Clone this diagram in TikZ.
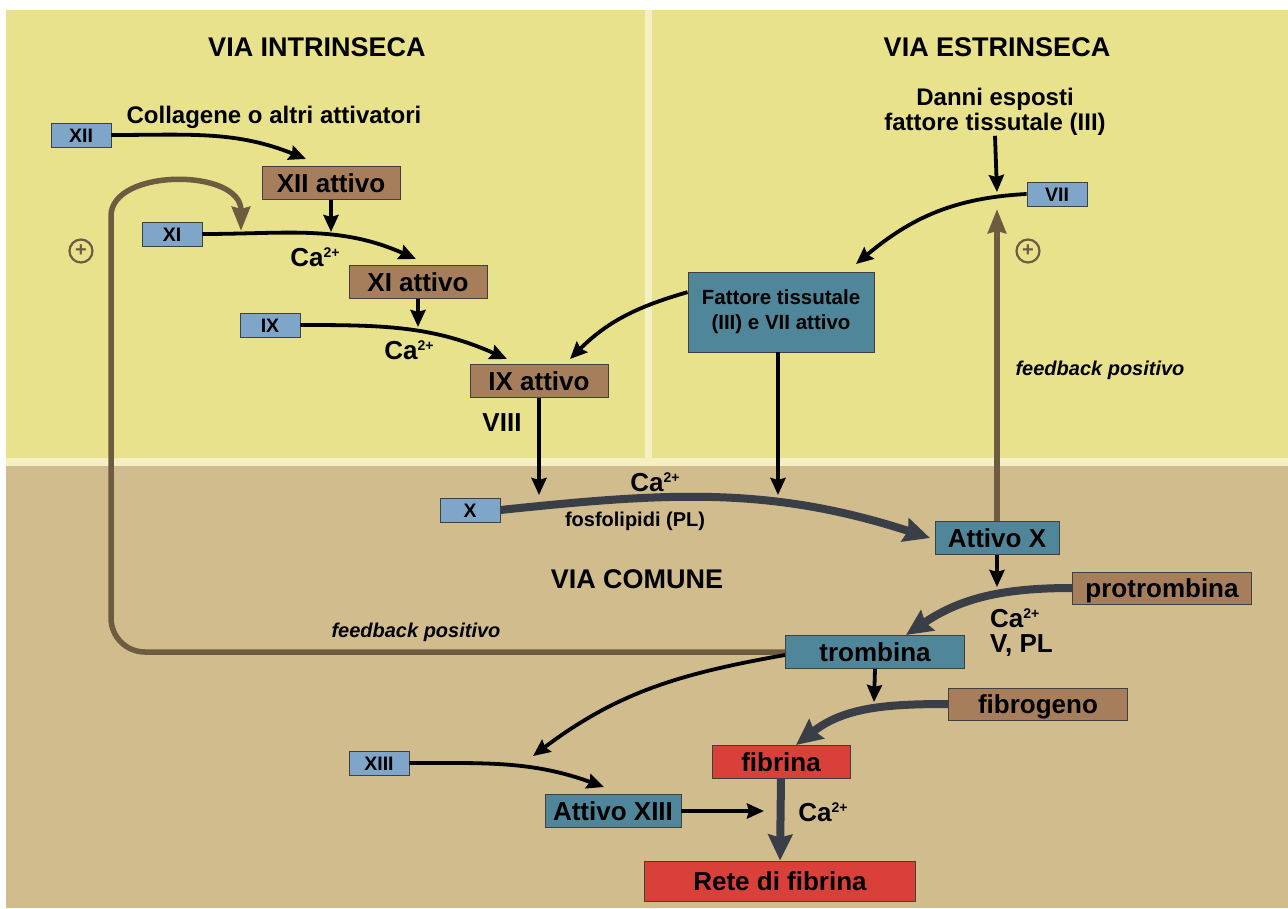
\documentclass[tikz,border=0pt]{standalone}
\usepackage{fontspec}
\setmainfont{Liberation Sans}
\usetikzlibrary{
	arrows.meta,
	positioning,
	calc,
}
\definecolor{panelyellow}{HTML}{E8E28C}
\definecolor{paneltan}{HTML}{D0BC8C}
\definecolor{panelstrip}{HTML}{F4F0C4}
\definecolor{factorblue}{HTML}{7FA6C8}
\definecolor{enzymebrown}{HTML}{A67E5C}
\definecolor{enzymeteal}{HTML}{50869A}
\definecolor{fibrinred}{HTML}{D9403A}
\definecolor{feedbackbrown}{HTML}{6E5C40}
\definecolor{darkflow}{HTML}{3A3E46}
\newcommand{\calcium}{Ca\raisebox{8.5pt}{\fontsize{14}{14}\selectfont 2+}}
\tikzset{factor/.style={
		% The shape:
		rectangle,
		% The size:
		minimum width=60pt,minimum height=24pt,inner sep=0pt,
		% The border:
		draw=black!75,line width=0.8pt,
		% The filling:
		fill=factorblue,
		% make sure text aligns properly
		font=\bfseries\fontsize{19.5}{21}\selectfont,
		text height=14pt,text depth=0pt,
}}
\tikzset{enzyme/.style={
		% The shape:
		rectangle,
		% The size:
		minimum width=138pt,minimum height=33pt,inner sep=0pt,
		% The border:
		draw=black!75,line width=0.8pt,
		% The filling:
		fill=enzymebrown,
		% make sure text aligns properly
		font=\bfseries\fontsize{26}{30}\selectfont,
		text height=18.7pt,text depth=0pt,
}}
\tikzset{active/.style={enzyme,fill=enzymeteal}}
\tikzset{fibrin/.style={enzyme,fill=fibrinred}}
\tikzset{complex/.style={
		rectangle,minimum width=186pt,minimum height=80pt,inner sep=0pt,
		draw=black!75,line width=0.8pt,fill=enzymeteal,
		align=center,font=\bfseries\fontsize{20.5}{25}\selectfont,
}}
\tikzset{headline/.style={inner sep=0pt,font=\bfseries\fontsize{27}{30}\selectfont,text height=19.4pt,text depth=0pt}}
\tikzset{note/.style={inner sep=0pt,font=\bfseries\fontsize{24}{26}\selectfont,text height=17.3pt,text depth=0pt}}
\tikzset{notelines/.style={inner sep=0pt,align=center,font=\bfseries\fontsize{24}{25}\selectfont}}
\tikzset{ion/.style={inner sep=0pt,font=\bfseries\fontsize{26}{28}\selectfont,text height=18.7pt,text depth=0pt}}
\tikzset{small note/.style={inner sep=0pt,font=\bfseries\fontsize{20}{22}\selectfont,text height=14.4pt,text depth=0pt}}
\tikzset{fbnote/.style={inner sep=0pt,font=\bfseries\itshape\fontsize{20}{22}\selectfont,text height=14.4pt,text depth=0pt}}
\tikzset{plus/.style={circle,draw=feedbackbrown,line width=2.2pt,minimum size=23pt,inner sep=0pt,
		text=feedbackbrown,font=\bfseries\fontsize{20}{20}\selectfont}}
\tikzset{flow/.style={->,line width=3.8pt,black}}
\tikzset{thickflow/.style={-{Stealth[length=26pt,width=24pt,inset=3pt]},line width=8pt,darkflow}}
\tikzset{feedback/.style={-{Stealth[length=24pt,width=18pt,inset=2pt]},line width=5.5pt,feedbackbrown}}

\begin{document}
\begin{tikzpicture}[x=1pt,y=-1pt,>={Stealth[length=17pt,width=15pt,inset=2pt]}]
	% panels
	\useasboundingbox (0,0) rectangle (1288,908);
	\fill[white] (0,0) rectangle (1288,908);
	\fill[panelstrip] (6,10) rectangle (1288,466);
	\fill[panelyellow] (6,10) rectangle (645,458);
	\fill[panelyellow] (652,10) rectangle (1288,458);
	\fill[paneltan] (6,466) rectangle (1288,908);
	% titles
	\node[headline] (intr) at (317,47) {VIA INTRINSECA};
	\node[headline] (estr) at (997,47) {VIA ESTRINSECA};
	\node[headline] (comune) at (637,579) {VIA COMUNE};
	% via intrinseca
	\node[factor] (xii) at (81,135) {XII};
	\node[note] (coll) at (274,115) {Collagene o altri attivatori};
	\node[enzyme] (xiiact) at (331,183) {XII attivo};
	\node[factor] (xi) at (172,234) {XI};
	\node[ion] (ca1) at (315,257) {\calcium};
	\node[enzyme] (xiact) at (418,282) {XI attivo};
	\node[factor] (ix) at (270,325) {IX};
	\node[ion] (ca2) at (409,350) {\calcium};
	\node[enzyme] (ixact) at (539,381) {IX attivo};
	\node[ion] (viii) at (502,422) {VIII};
	\node[plus] (plusl) at (81,251) {+};
	% via estrinseca
	\node[notelines,anchor=north] (danni) at (995,88) {Danni esposti\\fattore tissutale (III)};
	\node[factor] (vii) at (1057,194) {VII};
	\node[complex] (fatt) at (781,312) {Fattore tissutale\\(III) e VII attivo};
	\node[plus] (plusr) at (1028,251) {+};
	\node[fbnote] (fbr) at (1100,368) {feedback positivo};
	% via comune
	\node[factor] (x) at (470,510) {X};
	\node[ion] (ca3) at (655,482) {\calcium};
	\node[small note] (fosfo) at (635,519) {fosfolipidi (PL)};
	\node[active,minimum width=124pt] (xact) at (997,538) {Attivo X};
	\node[enzyme,minimum width=179pt,minimum height=32pt] (protr) at (1162,588) {protrombina};
	\node[ion,anchor=west] (ca4) at (990,618) {\calcium};
	\node[ion,anchor=west] (vpl) at (990,643) {V, PL};
	\node[active,minimum width=179pt] (tromb) at (875,652) {trombina};
	\node[fbnote] (fbl) at (416,630) {feedback positivo};
	\node[enzyme,minimum width=179pt,minimum height=32pt] (fibrog) at (1038,704) {fibrogeno};
	\node[fibrin] (fibr) at (781,762) {fibrina};
	\node[factor] (xiii) at (379,763) {XIII};
	\node[active,minimum width=136pt] (xiiiact) at (613,811) {Attivo XIII};
	\node[ion] (ca5) at (823,812) {\calcium};
	\node[fibrin,minimum width=271pt,minimum height=40pt] (rete) at (780,881) {Rete di fibrina};
	% arrow ends
	\coordinate (xiiin) at (306,159);
	\coordinate (xiiout) at (331,232);
	\coordinate (xiin) at (416,259);
	\coordinate (xiout) at (418,327);
	\coordinate (ixin) at (507,359);
	\coordinate (ixfatt) at (570,359);
	\coordinate (viiin) at (997,192);
	\coordinate (fattin) at (856,264);
	\coordinate (fbtip) at (997,209);
	\coordinate (xfromix) at (539,495);
	\coordinate (xfromfatt) at (778,495);
	\coordinate (xactin) at (930,538);
	\coordinate (xactout) at (997,587);
	\coordinate (trombin) at (906,635);
	\coordinate (trombout) at (874,702);
	\coordinate (fibrin) at (796,745);
	\coordinate (xiiiin) at (533,756);
	\coordinate (xiiiactin) at (604,787);
	\coordinate (xiiiout) at (764,811);
	% intrinsic arrows
	\draw[flow] (xii.east) to[out=0,in=158] (xiiin);
	\draw[flow] (xiiact.south) -- (xiiout);
	\draw[flow] (xi.east) to[out=0,in=156] (xiin);
	\draw[flow] (xiact.south) -- (xiout);
	\draw[flow] (ix.east) to[out=0,in=156] (ixin);
	\draw[flow] (fatt.168) to[out=196,in=45] (ixfatt);
	\draw[flow] (ixact.south) -- (xfromix);
	% extrinsic arrows
	\draw[flow] (danni.south) -- (viiin);
	\draw[flow] (vii.west) to[out=183,in=40] (fattin);
	\draw[flow] ($(fatt.south)+(-3,0)$) -- (xfromfatt);
	% common pathway
	\draw[thickflow] (x.east) to[out=6,in=162] (xactin);
	\draw[feedback] (xact.north) -- (fbtip);
	\draw[flow] (xact.south) -- (xactout);
	\draw[thickflow] (protr.west) to[out=180,in=34] (trombin);
	\draw[feedback,rounded corners=34pt] (tromb.west) -| (111,250)
		.. controls (111,168) and (241,168) .. (241,231);
	\draw[flow] (tromb.south) -- (trombout);
	\draw[thickflow] (fibrog.west) to[out=180,in=38] (fibrin);
	\draw[flow] ($(tromb.west)+(0,3)$) to[out=190,in=37] (xiiiin);
	\draw[flow] (xiii.east) to[out=0,in=160] (xiiiactin);
	\draw[flow] (xiiiact.east) -- (xiiiout);
	\draw[thickflow] (fibr.south) -- (rete.north);
\end{tikzpicture}
\end{document}
